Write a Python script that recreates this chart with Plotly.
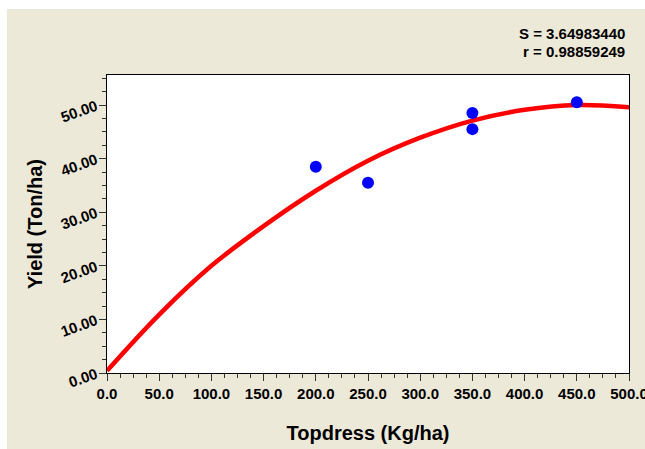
import plotly.graph_objects as go

# Observed data points
topdress = [200, 250, 350, 350, 450]
yield_obs = [38.5, 35.5, 48.5, 45.5, 50.5]

# Fitted curve values
curve_x = [0, 50, 100, 150, 200, 250, 300, 350, 400, 450, 500]
curve_y = [0.4, 10.9, 20.0, 27.4, 34.0, 39.6, 43.9, 47.1, 49.1, 50.0, 49.6]

stats_lines = ["S = 3.64983440", "r = 0.98859249"]

W, H = 645, 449
L, R, T, B = 107, 629, 75, 373
pw, ph = R - L, B - T

def px_x(p):
    return (p - L) / pw

def px_y(p):
    return (B - p) / ph

BEIGE = "#ECE9D8"
FONT = "Liberation Sans"

fig = go.Figure()
fig.add_trace(go.Scatter(x=curve_x, y=curve_y, mode="lines",
                         line=dict(color="#FF0000", width=4.5, shape="spline"),
                         showlegend=False, cliponaxis=False))
fig.add_trace(go.Scatter(x=topdress, y=yield_obs, mode="markers",
                         marker=dict(color="#0000FF", size=12, line=dict(width=0)),
                         showlegend=False))

shapes = [
    dict(type="rect", xref="paper", yref="paper", layer="below",
         x0=px_x(7), x1=px_x(W + 5), y0=px_y(H + 5), y1=px_y(9),
         fillcolor=BEIGE, line=dict(width=0)),
    dict(type="rect", xref="paper", yref="paper", layer="below",
         x0=0, x1=1, y0=0, y1=1, fillcolor="white", line=dict(width=0)),
]

fig.update_layout(
    width=W, height=H,
    margin=dict(l=L, r=W - R, t=T, b=H - B, pad=0, autoexpand=False),
    paper_bgcolor="white", plot_bgcolor="white",
    font=dict(family=FONT, color="black"),
    shapes=shapes,
    annotations=[
        dict(xref="paper", yref="paper", x=px_x(627), y=px_y(33), xanchor="right", yanchor="middle",
             text="<b>%s</b>" % stats_lines[0], showarrow=False, font=dict(size=15, family=FONT)),
        dict(xref="paper", yref="paper", x=px_x(627), y=px_y(52), xanchor="right", yanchor="middle",
             text="<b>%s</b>" % stats_lines[1], showarrow=False, font=dict(size=15, family=FONT)),
    ],
    xaxis=dict(range=[0, 500], dtick=50, tick0=0, tickformat=".1f", automargin=False,
               ticklabeloverflow="allow",
               showgrid=False, zeroline=False,
               showline=True, linecolor="black", linewidth=1, mirror=True,
               ticks="outside", ticklen=7, tickcolor="#333", tickwidth=1,
               minor=dict(dtick=12.5, ticks="outside", ticklen=4, tickcolor="#333"),
               tickfont=dict(size=15, family=FONT, color="black", weight="bold"),
               title=dict(text="<b>Topdress (Kg/ha)</b>", font=dict(size=20, family=FONT), standoff=24)),
    yaxis=dict(range=[0, 55.6], dtick=10, tick0=0, tickformat=".2f", automargin=False,
               ticklabeloverflow="allow",
               showgrid=False, zeroline=False,
               showline=True, linecolor="black", linewidth=1, mirror=True,
               ticks="outside", ticklen=7, tickcolor="#333", tickwidth=1,
               minor=dict(dtick=2.5, ticks="outside", ticklen=4, tickcolor="#333"),
               tickangle=-20,
               tickfont=dict(size=15, family=FONT, color="black", weight="bold"),
               title=dict(text="<b>Yield (Ton/ha)</b>", font=dict(size=20, family=FONT), standoff=10)),
)

fig.write_html("out.html")
